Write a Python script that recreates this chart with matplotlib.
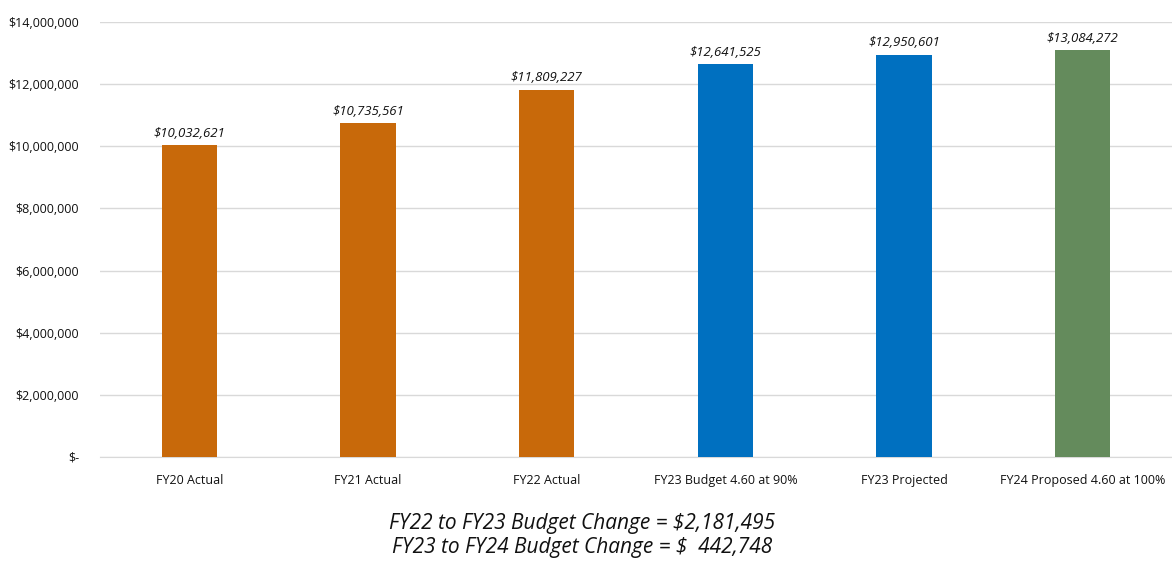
import matplotlib.pyplot as plt
from matplotlib.ticker import FuncFormatter

categories = ['FY20 Actual', 'FY21 Actual', 'FY22 Actual', 'FY23 Budget 4.60 at 90%',
              'FY23 Projected', 'FY24 Proposed 4.60 at 100%']
values = [10032621, 10735561, 11809227, 12641525, 12950601, 13084272]
colors = ['#C8690A', '#C8690A', '#C8690A', '#0070C0', '#0070C0', '#648B5C']
notes = ['FY22 to FY23 Budget Change = $2,181,495',
         'FY23 to FY24 Budget Change = $  442,748']

plt.rcParams['font.family'] = ['Open Sans', 'DejaVu Sans']

fig = plt.figure(figsize=(11.72, 5.61), dpi=100)
ax = fig.add_axes([0.0853, 0.1854, 0.9147, 0.7754])

x = range(len(categories))
bars = ax.bar(x, values, width=0.31, color=colors, zorder=3)
for b, v in zip(bars, values):
    ax.text(b.get_x() + b.get_width() / 2, v + 180000, f'${v:,.0f}',
            ha='center', va='bottom', fontsize=9.5, style='italic', color='#111111')

ax.set_xlim(-0.5, len(categories) - 0.5)
ax.set_ylim(0, 14000000)
ax.set_yticks(range(0, 14000001, 2000000))


def money(v, pos):
    return '$-' if v == 0 else f'${v:,.0f}'


ax.yaxis.set_major_formatter(FuncFormatter(money))
ax.set_xticks(list(x))
ax.set_xticklabels(categories)
ax.tick_params(axis='both', length=0, labelsize=9, colors='#111111')
ax.tick_params(axis='x', pad=12)
ax.tick_params(axis='y', pad=15)
ax.grid(axis='y', color='#D9D9D9', linewidth=1, zorder=0)
for s in ['top', 'right', 'left']:
    ax.spines[s].set_visible(False)
ax.spines['bottom'].set_color('#D9D9D9')

fig.text(0.497, 1 - 523 / 561, notes[0], ha='center', va='center',
         fontsize=15, style='italic', color='#111111')
fig.text(0.497, 1 - 548 / 561, notes[1], ha='center', va='center',
         fontsize=15, style='italic', color='#111111')

fig.savefig('out.png', dpi=100)
